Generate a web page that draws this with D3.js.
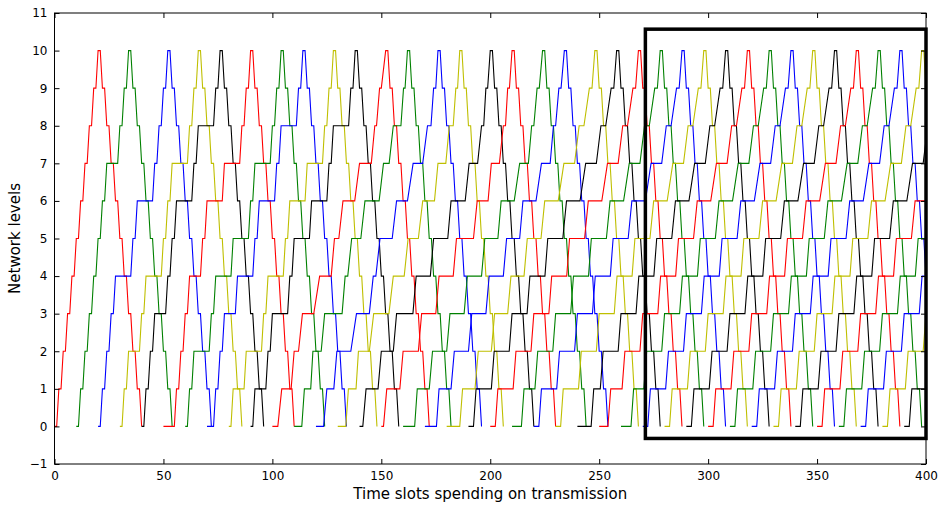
<!DOCTYPE html>
<html><head><meta charset="utf-8">
<script src="https://cdn.jsdelivr.net/npm/d3@7"></script>
<style>
body{margin:0;background:#fff;}
text{font-family:"DejaVu Sans",sans-serif;fill:#000;}
</style></head>
<body><svg id="chart" width="940" height="508"></svg>
<script>
// ---- data ----
const xTickValues = [0, 50, 100, 150, 200, 250, 300, 350, 400];
const yTickValues = [-1, 0, 1, 2, 3, 4, 5, 6, 7, 8, 9, 10, 11];
const xLabel = "Time slots spending on transmission";
const yLabel = "Network levels";
// each packet: rising plateaus [arrive, leave] for levels 0..10
const redPackets = [
 [0,1,2,3,4,5,6,7,8,9,10,11,12,13,14,15,16,17,18,19,20,21],
 [50,55,56,57,58,59,60,61,62,67,68,69,70,77,78,85,86,87,88,89,90,91],
 [100,102.5,104.3,108.6,110,112,113.8,119,121.7,127,128.5,130.5,132.4,137.8,140,145.4,147,147.8,149.2,150,152,153],
 [150,151,152.5,158.5,160,167,168.5,175,176.5,183,184.5,192.3,194,199,200.5,204.2,206,207,208,208.8,210,211],
 [200,202.3,203.5,210.5,211.8,218.7,220,226.9,228.2,235.1,236.4,243.3,245,251.2,253.8,258.7,260.8,263,265.5,266.7,268,269],
 [250,254,255.3,260.5,261.8,268.7,270,276.9,278.2,285.1,286.4,293.3,295,301.2,303.8,308.7,310.8,313,315.5,316.7,318,319],
 [300,302.3,303.5,310.5,311.8,318.7,320,326.9,328.2,335.1,336.4,343.3,345,351.2,353.8,358.7,360.8,363,365.5,366.7,368,369],
 [350,352.3,353.5,360.5,361.8,368.7,370,376.9,378.2,385.1,386.4,393.3,395,401.2,403.8,408.7,410.8,413,415.5,416.7,418,419]
];
const greenPackets = [
 [10,11,12,13,14,15,16,17,18,19,20,21,22,23,24,29,30,31,32,33,34,35],
 [60,61,62,63,64,71,72,73,74,81,82,89,90,91,92,99,100,101,102,103,104,105],
 [110,113.5,114.7,117.6,118.6,122.4,124,132,133.4,134.6,136.4,140.6,142.5,149,151,153.6,155.5,159,160.2,160.9,162,163],
 [160,165.3,166.5,172,173.5,180,181.5,188,189.5,196,197.5,203.5,205,211,213.5,217.5,219,220,221.5,222.5,224,225],
 [210,214.3,215.5,220.5,221.8,228.7,230,236.9,238.2,245.1,246.4,253.3,255,261.2,263.8,268.7,270.8,273,275.5,276.7,278,279],
 [260,264.6,265.8,270.5,271.8,278.7,280,286.9,288.2,295.1,296.4,303.3,305,311.2,313.8,318.7,320.8,323,325.5,326.7,328,329],
 [310,312.3,313.5,320.5,321.8,328.7,330,336.9,338.2,345.1,346.4,353.3,355,361.2,363.8,368.7,370.8,373,375.5,376.7,378,379],
 [360,362.3,363.5,370.5,371.8,378.7,380,386.9,388.2,395.1,396.4,403.3,405,411.2,413.8,418.7,420.8,423,425.5,426.7,428,429]
];
const bluePackets = [
 [20,21,22,23,24,25,26,27,28,35,36,37,38,45,46,47,48,49,50,51,52,53],
 [70,73,74,75,76,77,78,83,84,91,92,93,94,101,102,103,104,111,112,113,114,115],
 [120,123.5,125,128.2,129.6,136,138.6,144.5,146.3,147.5,149.4,155,157,162,164.6,169,171.2,172.8,174,175,176,177],
 [170,175.3,176.5,182,183.5,190,191.5,198,199.5,206,207.5,213.5,215,221,223.5,227.5,229,230,231.5,232.5,234,235],
 [220,222.3,223.5,230.5,231.8,238.7,240,246.9,248.2,255.1,256.4,263.3,265,271.2,273.8,278.7,280.8,283,285.5,286.7,288,289],
 [270,272.3,273.5,280.5,281.8,288.7,290,296.9,298.2,305.1,306.4,313.3,315,321.2,323.8,328.7,330.8,333,335.5,336.7,338,339],
 [320,322.3,323.5,330.5,331.8,338.7,340,346.9,348.2,355.1,356.4,363.3,365,371.2,373.8,378.7,380.8,383,385.5,386.7,388,389],
 [370,372.3,373.5,380.5,381.8,388.7,390,396.9,398.2,405.1,406.4,413.3,415,421.2,423.8,428.7,430.8,433,435.5,436.7,438,439]
];
const yellowPackets = [
 [30,31,32,33,34,39,40,41,42,49,50,51,52,53,54,61,62,63,64,65,66,67],
 [80,81,82,87,88,95,96,97,98,105,106,107,108,115,116,123,124,125,126,127,128,129],
 [130,133.7,134.9,138.4,139.5,144.5,146.5,153.5,155.5,160.5,162.3,167,169,174.4,176,179.6,181.2,183,184.2,185,186,187],
 [180,186,187.3,193,194.5,200.5,202,208,209.5,215.5,217,223.3,225,231.2,233.8,238.7,240.8,243,245.5,246.7,248,249],
 [230,232.3,233.5,240.5,241.8,248.7,250,256.9,258.2,265.1,266.4,273.3,275,281.2,283.8,288.7,290.8,293,295.5,296.7,298,299],
 [280,282.3,283.5,290.5,291.8,298.7,300,306.9,308.2,315.1,316.4,323.3,325,331.2,333.8,338.7,340.8,343,345.5,346.7,348,349],
 [330,332.3,333.5,340.5,341.8,348.7,350,356.9,358.2,365.1,366.4,373.3,375,381.2,383.8,388.7,390.8,393,395.5,396.7,398,399],
 [380,382.3,383.5,390.5,391.8,398.7,400,406.9,408.2,415.1,416.4,423.3,425,431.2,433.8,438.7,440.8,443,445.5,446.7,448,449]
];
const blackPackets = [
 [40,41,42,43,44,45,46,51,52,53,54,55,56,63,64,65,66,73,74,75,76,77],
 [90,91,92,97,98,99,100,107,108,109,110,117,118,125,126,127,128,135,136,137,138,139],
 [140,141.5,143,148.5,150,155.5,157,164.5,166,172.5,174,180.5,182,188.5,190.3,194.2,196,197,198,198.8,200,201],
 [190,192.3,193.5,200.5,201.8,208.7,210,216.9,218.2,225.1,226.4,233.3,235,241.2,243.8,248.7,250.8,253,255.5,256.7,258,259],
 [240,246.3,247.5,250.5,251.8,258.7,260,266.9,268.2,275.1,276.4,283.3,285,291.2,293.8,298.7,300.8,303,305.5,306.7,308,309],
 [290,292.3,293.5,300.5,301.8,308.7,310,316.9,318.2,325.1,326.4,333.3,335,341.2,343.8,348.7,350.8,353,355.5,356.7,358,359],
 [340,342.3,343.5,350.5,351.8,358.7,360,366.9,368.2,375.1,376.4,383.3,385,391.2,393.8,398.7,400.8,403,405.5,406.7,408,409],
 [390,392.3,393.5,400.5,401.8,408.7,410,416.9,418.2,425.1,426.4,433.3,435,441.2,443.8,448.7,450.8,453,455.5,456.7,458,459]
];
// descent after the peak: [level, arrive offset, leave offset] relative to arrival at level 10
const descentPlateaus = [[9,2,3],[8,4,5],[7,6,7],[6,8,9],[5,10,11],[4,12,13],[3,14,15],[2,16,17],[1,18,19],[0,20,20]];
const seriesColors = {red:"#ff0000", green:"#008000", blue:"#0000ff", yellow:"#bfbf00", black:"#000000"};
const highlightBox = {x0:271.2, x1:400, y0:-0.32, y1:10.57};

// ---- drawing ----
const M = {left:54.5, right:926, top:13, bottom:464};
const svg = d3.select("#chart");
const x = d3.scaleLinear().domain([0,400]).range([M.left, M.right]);
const y = d3.scaleLinear().domain([-1,11]).range([M.bottom, M.top]);

svg.append("defs").append("clipPath").attr("id","clip")
  .append("rect").attr("x",M.left).attr("y",M.top)
  .attr("width",M.right-M.left).attr("height",M.bottom-M.top);

function packetPoints(p){
  const pts = [];
  for (let L = 0; L <= 10; L++){
    pts.push([p[2*L], L]);
    pts.push([p[2*L+1], L]);
  }
  const peak = p[20];
  descentPlateaus.forEach(d => {
    pts.push([peak + d[1], d[0]]);
    if (d[2] !== d[1]) pts.push([peak + d[2], d[0]]);
  });
  return pts;
}

const all = [];
[["red",redPackets],["green",greenPackets],["blue",bluePackets],["yellow",yellowPackets],["black",blackPackets]]
 .forEach(([c, arr]) => arr.forEach(p => all.push({c, p})));
all.sort((a,b) => a.p[0] - b.p[0]);

const line = d3.line().x(d => x(d[0])).y(d => y(d[1]));
const g = svg.append("g").attr("clip-path","url(#clip)");
g.selectAll("path.pk").data(all).enter().append("path")
  .attr("class","pk")
  .attr("d", d => line(packetPoints(d.p)))
  .attr("fill","none")
  .attr("stroke", d => seriesColors[d.c])
  .attr("stroke-width",1.1)
  .attr("stroke-linejoin","miter");

// axes with inward ticks
const fs = "12px";
const ax = svg.append("g").attr("transform",`translate(0,${M.bottom})`)
  .call(d3.axisBottom(x).tickValues(xTickValues).tickSizeInner(-5).tickSizeOuter(0).tickPadding(7));
const ay = svg.append("g").attr("transform",`translate(${M.left},0)`)
  .call(d3.axisLeft(y).tickValues(yTickValues).tickSizeInner(-5).tickSizeOuter(0).tickPadding(7));
const at = svg.append("g").attr("transform",`translate(0,${M.top})`)
  .call(d3.axisTop(x).tickValues(xTickValues).tickSizeInner(-5).tickSizeOuter(0).tickFormat(""));
const ar = svg.append("g").attr("transform",`translate(${M.right},0)`)
  .call(d3.axisRight(y).tickValues(yTickValues).tickSizeInner(-5).tickSizeOuter(0).tickFormat(""));
[ax,ay,at,ar].forEach(a => {
  a.select(".domain").remove();
  a.selectAll("text").attr("font-size",fs).attr("font-family","DejaVu Sans");
  a.selectAll("line").attr("stroke","#000");
});
ay.selectAll("text").text(d => d < 0 ? "\u2212" + Math.abs(d) : d);

svg.append("rect").attr("x",M.left).attr("y",M.top)
  .attr("width",M.right-M.left).attr("height",M.bottom-M.top)
  .attr("fill","none").attr("stroke","#000").attr("stroke-width",1);

// highlight box
svg.append("rect")
  .attr("x", x(highlightBox.x0)).attr("y", y(highlightBox.y1))
  .attr("width", x(highlightBox.x1) - x(highlightBox.x0))
  .attr("height", y(highlightBox.y0) - y(highlightBox.y1))
  .attr("fill","none").attr("stroke","#000").attr("stroke-width",3.5);

svg.append("text").attr("x",(M.left+M.right)/2).attr("y",499)
  .attr("text-anchor","middle").attr("font-size","15px").text(xLabel);
svg.append("text").attr("transform",`translate(20,${(M.top+M.bottom)/2}) rotate(-90)`)
  .attr("text-anchor","middle").attr("font-size","15px").text(yLabel);
</script>
</body></html>
